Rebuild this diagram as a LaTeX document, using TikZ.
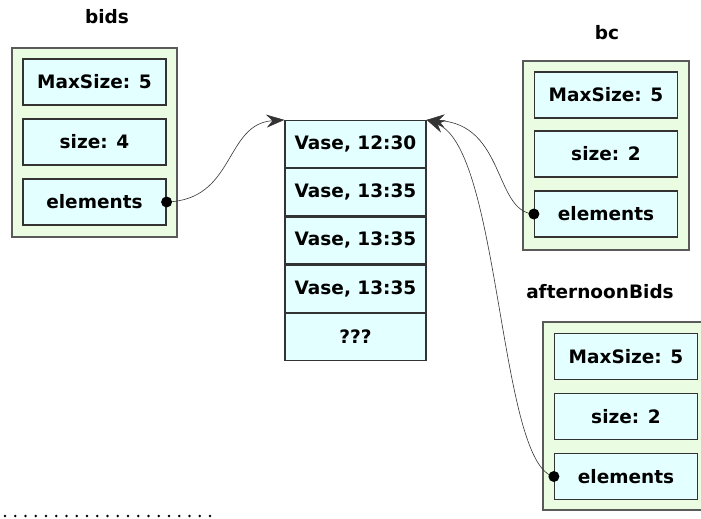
\documentclass[tikz,border=0pt]{standalone}
\usepackage{fontspec}
\setmainfont{DejaVu Sans}
\usetikzlibrary{arrows.meta,positioning}
\definecolor{boxgreen}{RGB}{234,253,226}
\definecolor{cellcyan}{RGB}{228,255,255}
\definecolor{edgegray}{RGB}{90,90,90}
\begin{document}
\begin{tikzpicture}[x=1pt,y=-1pt,
		obj/.style={draw=edgegray,fill=boxgreen,line width=1.2pt},
		field/.style={draw=black!80,fill=cellcyan,line width=1.2pt,minimum width=143pt,minimum height=46pt,inner sep=0pt,font=\fontsize{18.5}{20}\selectfont\bfseries},
		cell/.style={field,minimum width=141pt,minimum height=47pt},
		title/.style={inner sep=0pt,font=\fontsize{18.5}{20}\selectfont\bfseries},
		ref/.style={draw=black!80,line width=0.6pt,-{Stealth[length=18pt,width=13pt,inset=6pt]}}]
		\useasboundingbox (0,0) rectangle (701,519);
		% bids
		\node[title] (bidsName) at (107,17) {bids};
		\draw[obj] (12,48) rectangle (177,237);
		\node[field] (bidsMax) at (94.5,82) {MaxSize: 5};
		\node[field] (bidsSize) at (94.5,142) {size: 4};
		\node[field] (bidsEl) at (94.5,202) {elements};
		% bc
		\node[title] (bcName) at (607,33) {bc};
		\draw[obj] (523,61) rectangle (689,250);
		\node[field] (bcMax) at (606,95) {MaxSize: 5};
		\node[field] (bcSize) at (606,154) {size: 2};
		\node[field] (bcEl) at (606,214) {elements};
		% afternoonBids
		\node[title] (abName) at (600,292) {afternoonBids};
		\draw[obj] (543,322) rectangle (705,510);
		\node[field] (abMax) at (626,356.5) {MaxSize: 5};
		\node[field] (abSize) at (626,416.5) {size: 2};
		\node[field] (abEl) at (626,476.5) {elements};
		% the array
		\node[cell] (v1) at (355.5,144) {Vase, 12:30};
		\node[cell,below=0pt of v1] (v2) {Vase, 13:35};
		\node[cell,below=0pt of v2] (v3) {Vase, 13:35};
		\node[cell,below=0pt of v3] (v4) {Vase, 13:35};
		\node[cell,below=0pt of v4] (v5) {???};
		% references
		\draw[ref] (bidsEl.east) .. controls +(69,-2) and +(-60,4) .. (v1.north west);
		\fill (bidsEl.east) circle (5.5pt);
		\draw[ref] (bcEl.west) .. controls +(-40,-2) and +(79,4) .. (v1.north east);
		\fill (bcEl.west) circle (5.5pt);
		\draw[ref] (abEl.west) .. controls +(-55,-12) and +(74,29) .. (v1.north east);
		\fill (abEl.west) circle (5.5pt);
		\foreach \i in {0,...,20}
			\fill (5+10.25*\i,516) circle (1.3pt);
	\end{tikzpicture}
\end{document}
